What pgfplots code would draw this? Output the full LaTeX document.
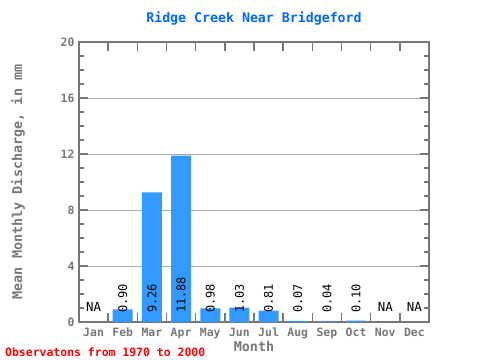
\documentclass[border=0pt]{standalone}
\usepackage{pgfplots}
\pgfplotsset{compat=1.18}
\usepackage{fontspec}
\setmainfont{DejaVu Sans Mono}
\definecolor{axgray}{HTML}{777777}
\definecolor{gridgray}{HTML}{AAAAAA}
\definecolor{barblue}{HTML}{3399FF}
\definecolor{titleblue}{HTML}{0066FF}
\begin{document}
\begin{tikzpicture}
\path[use as bounding box] (-79bp,-38bp) rectangle (401bp,322bp);
\begin{axis}[
  at={(0,0)}, anchor=south west,
  scale only axis, width=350bp, height=280bp,
  xmin=0.5, xmax=12.5, ymin=0, ymax=20,
  axis line style={axgray, line width=1.6bp},
  tick style={axgray, line width=1.6bp},
  tick align=inside,
  major tick length=9bp, minor tick length=5bp,
  xtick={1.5,2.5,...,11.5}, xticklabels={},
  extra x ticks={1,2,...,12},
  extra x tick labels={Jan,Feb,Mar,Apr,May,Jun,Jul,Aug,Sep,Oct,Nov,Dec},
  extra x tick style={major tick length=0pt, grid=none},
  ytick={0,4,...,20}, minor y tick num=3,
  ymajorgrids, grid style={gridgray, line width=0.8bp},
  ticklabel style={font=\fontsize{11.5}{12}\selectfont\bfseries, text=axgray},
  xticklabel style={text height=1.6ex, text depth=0.3ex, anchor=center, yshift=-11bp},
  yticklabel style={xshift=-1bp},
  title={Ridge Creek Near Bridgeford},
  title style={font=\fontsize{13.3}{14}\selectfont\bfseries, text=titleblue, at={(axis description cs:0.5,1.057)}, anchor=south, yshift=-9bp},
  xlabel={Month},
  xlabel style={font=\fontsize{13.5}{14}\selectfont\bfseries, text=axgray, at={(axis description cs:0.5,-0.089)}, anchor=center},
  ylabel={Mean Monthly Discharge, in mm},
  ylabel style={font=\fontsize{13.5}{14}\selectfont\bfseries, text=axgray, at={(axis description cs:-0.174,0.5)}, anchor=center},
  clip=false,
  /pgf/number format/assume math mode=true,
]
\addplot[ybar, bar width=20bp, fill=barblue, draw=none] coordinates {
 (2,0.90) (3,9.26) (4,11.88) (5,0.98) (6,1.03) (7,0.81) (8,0.07) (9,0.04) (10,0.10)
};
\addplot[only marks, mark=none, nodes near coords, point meta=explicit symbolic,
  nodes near coords style={rotate=90, anchor=west, font=\fontsize{12}{12}\selectfont, text=black, inner sep=0pt}]
 coordinates {
 (2,0.64) [0.90] (3,0.64) [9.26] (4,0.64) [11.88] (5,0.64) [0.98] (6,0.64) [1.03]
 (7,0.64) [0.81] (8,0.64) [0.07] (9,0.64) [0.04] (10,0.64) [0.10]
};
\addplot[only marks, mark=none, nodes near coords, point meta=explicit symbolic,
  nodes near coords style={anchor=center, font=\fontsize{12.5}{12}\selectfont, text=black, inner sep=0pt}]
 coordinates {
 (1,1.05) [NA] (11,1.05) [NA] (12,1.05) [NA]
};
\end{axis}
\node[anchor=west, text=red, font=\fontsize{11.5}{12}\selectfont\bfseries, inner sep=0pt] at (-74bp,-30bp) {Observatons from 1970 to 2000};
\end{tikzpicture}
\end{document}
